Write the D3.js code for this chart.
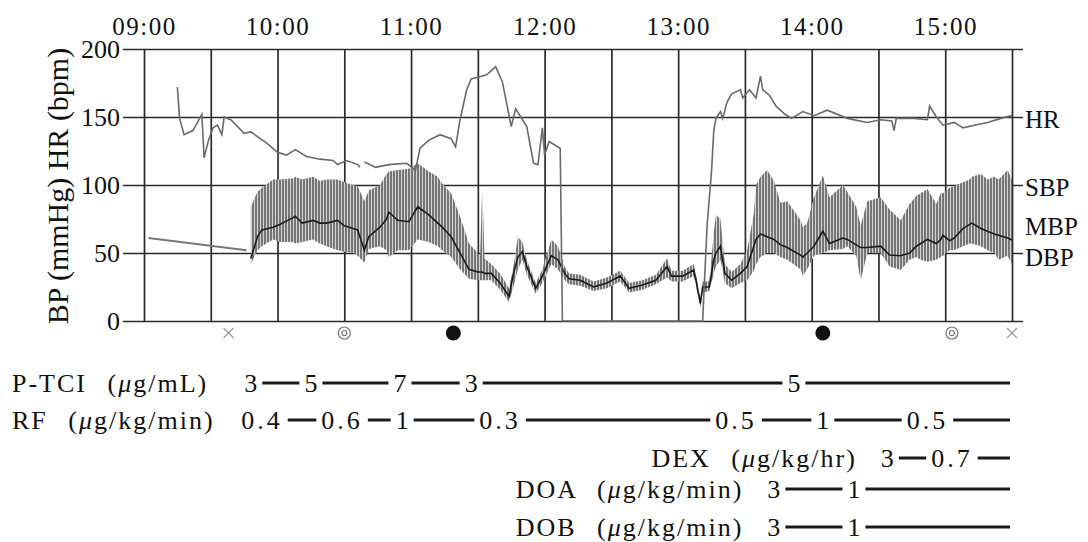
<!DOCTYPE html>
<html><head><meta charset="utf-8">
<script src="https://cdn.jsdelivr.net/npm/d3@7"></script>
<style>
html,body{margin:0;padding:0;background:#fff;}
svg{display:block;font-family:"Liberation Serif","DejaVu Serif",serif;}
</style></head><body>
<svg id="chart" width="1088" height="542"></svg>
<script>
// ---------- DATA ----------
const yTicks = [0, 50, 100, 150, 200];
const gridTimes = ["09:00","09:30","10:00","10:30","11:00","11:30","12:00","12:30","13:00","13:30","14:00","14:30","15:00","15:30"];
const hourLabels = ["09:00","10:00","11:00","12:00","13:00","14:00","15:00"];

// Heart rate (bpm); null = gap in trace
const hrTime = ["09:15","09:16","09:18","09:22","09:26","09:27","09:29","09:31","09:33","09:35","09:36","09:39","09:45","09:48","09:55","10:00","10:04","10:08","10:13","10:19","10:25","10:27","10:31","10:36","10:37","10:38","10:39","10:44","10:50","10:58","11:02","11:04","11:08","11:13","11:18","11:20","11:22","11:25","11:27","11:34","11:38","11:41","11:45","11:47","11:52","11:55","11:57","11:59","12:00","12:02","12:07","12:08","13:11","13:13","13:15","13:16","13:17","13:19","13:20","13:22","13:24","13:28","13:29","13:32","13:35","13:37","13:38","13:41","13:44","13:48","13:51","13:56","14:01","14:07","14:16","14:25","14:31","14:36","14:37","14:38","14:46","14:52","14:53","14:56","14:59","15:04","15:08","15:13","15:19","15:25","15:30"];
const hrValue = [172,149,137,140,152,120,133,142,144,137,150,148,138,139,131,124,122,126,121,119,118,115,118,115,113,null,117,113,115,116,111,127,133,137,134,128,148,170,178,181,187,176,143,156,143,116,115,142,122,132,127,0,0,70,110,140,149,154,149,161,167,170,164,170,164,180,170,166,158,152,149,154,151,155,149,146,148,147,140,149,149,148,158,150,144,146,142,144,146,149,151];

// Early blood-pressure trace before arterial line
const bpEarlyTime = ["09:02","09:46"];
const bpEarlyValue = [61, 52];

// Blood pressure (mmHg)
const bpTime = ["09:48","09:51","09:53","09:58","10:01","10:07","10:08","10:11","10:16","10:19","10:22","10:27","10:30","10:34","10:36","10:39","10:41","10:46","10:49","10:50","10:54","10:59","11:03","11:08","11:12","11:14","11:18","11:22","11:26","11:30","11:31","11:32","11:33","11:36","11:40","11:44","11:46","11:48","11:50","11:52","11:56","11:59","12:03","12:06","12:09","12:11","12:16","12:22","12:28","12:34","12:38","12:44","12:50","12:55","12:57","13:02","13:07","13:08","13:10","13:11","13:14","13:16","13:17","13:19","13:21","13:24","13:28","13:31","13:34","13:35","13:37","13:40","13:43","13:46","13:49","13:55","13:56","13:58","14:01","14:05","14:08","14:14","14:16","14:20","14:22","14:25","14:31","14:35","14:40","14:44","14:47","14:49","14:52","14:56","14:58","14:59","15:02","15:04","15:08","15:11","15:12","15:16","15:19","15:22","15:24","15:28","15:30"];
const sbpValue = [84,95,98,104,104,105,106,104,106,103,104,104,102,100,99,88,96,100,108,110,111,112,116,110,106,101,94,77,57,50,48,99,46,42,35,24,40,62,58,45,28,38,60,55,40,35,34,29,32,37,28,30,34,46,37,37,42,34,16,29,29,65,78,75,42,36,42,52,79,100,106,111,103,87,88,74,69,72,91,107,91,100,95,84,70,88,91,82,74,86,92,94,97,86,94,94,98,99,102,104,106,108,104,106,104,111,104];
const mbpValue = [46,62,67,69,71,76,77,72,74,72,72,74,70,68,67,52,62,69,75,80,74,73,84,78,72,69,62,50,38,36,36,36,35,35,28,18,35,47,51,40,24,33,48,45,35,31,30,25,28,33,24,26.5,30,40,33,33,37.5,30,13,25,25,45,50,55,35,30,35,40,55,60,64,62,60,56,54,48.5,47,50,55,66,57,61,60,56,54,54,55,48.5,48,50,55,57,60,57,60,63,59,61,68,71,72,68,66,64,63,61,59.5];
const dbpValue = [42,52,55,60,58,58,57,58,60,57,55,52,51,50,48,43,53,55,52,47,52,52,60,58,55,52,47,38,31,30,30,30,30,30,23,14,25,38,45,34,20,28,42,38,30,27,26,22,24,29,21,23,27,32,29,29,33,26,10,21,22,35,40,45,28,24,28,30,37,42,47,50,50,47,45,38,33,38,48,50,52,53,55,48,30,50,50,40,37.5,45,47,45,43.5,45,47,48,52,52,55,57,57,55,52,50,45,48,42];

const seriesLabels = ["HR","SBP","MBP","DBP"];
const seriesLabelLevels = [150, 100, 71, 48];

// Event markers below the time axis
const markerTime = ["09:38","10:30","11:19","14:05","15:03","15:30"];
const markerType = ["cross","bullseye","dot","dot","bullseye","cross"];

// Infusion rows
const drugNames = ["P-TCI","RF","DEX","DOA","DOB"];
const drugUnits = ["(μg/mL)","(μg/kg/min)","(μg/kg/hr)","(μg/kg/min)","(μg/kg/min)"];
const ptciTime = ["09:48","10:15","10:55","11:27","13:52"];
const ptciDose = ["3","5","7","3","5"];
const rfTime = ["09:53","10:29","10:56","11:40","13:26","14:05","14:52"];
const rfDose = ["0.4","0.6","1","0.3","0.5","1","0.5"];
const dexTime = ["14:34","15:03"];
const dexDose = ["3","0.7"];
const doaTime = ["13:43","14:19"];
const doaDose = ["3","1"];
const dobTime = ["13:43","14:19"];
const dobDose = ["3","1"];
const infusionEnd = "15:30";

// ---------- DRAW ----------
const parse = d3.timeParse("%H:%M");
const svg = d3.select("#chart");
const FONT = "'Liberation Serif','DejaVu Serif',serif";

const x = d3.scaleTime().domain([parse("09:00"), parse("15:30")]).range([144, 1012]);
const y = d3.scaleLinear().domain([0, 200]).range([321, 49]);

// hatch pattern for BP bars
const defs = svg.append("defs");
const pat = defs.append("pattern").attr("id","hatch").attr("patternUnits","userSpaceOnUse")
  .attr("width",3).attr("height",10);
pat.append("rect").attr("width",3).attr("height",10).attr("fill","#d4d4d4");
pat.append("line").attr("x1",1).attr("x2",1).attr("y1",0).attr("y2",10)
  .attr("stroke","#5e5e5e").attr("stroke-width",1.6);

// horizontal grid + y labels
svg.append("g").attr("transform","translate(123,0)")
  .call(d3.axisLeft(y).tickValues(yTicks).tickSize(-900).tickPadding(3).tickFormat(d3.format("d")))
  .attr("font-family", FONT).attr("font-size", 26)
  .call(g => g.select(".domain").remove())
  .call(g => g.selectAll("line").attr("stroke","#2a2a2a").attr("stroke-width",1.7))
  .call(g => g.selectAll("text").attr("fill","#111"));

// vertical grid + time labels
svg.append("g").attr("transform","translate(0,49)")
  .call(d3.axisTop(x).tickValues(gridTimes.map(parse)).tickSize(-(321-49)).tickPadding(14)
    .tickFormat(d => { const s = d3.timeFormat("%H:%M")(d); return hourLabels.includes(s) ? s : ""; }))
  .attr("font-family", FONT).attr("font-size", 25)
  .call(g => g.select(".domain").remove())
  .call(g => g.selectAll("line").attr("stroke","#2a2a2a").attr("stroke-width",1.7))
  .call(g => g.selectAll("text").attr("fill","#111").attr("letter-spacing","1.5px"));

// BP envelope
const bp = bpTime.map((t,i) => ({t: parse(t), s: sbpValue[i], m: mbpValue[i], d: dbpValue[i]}));
svg.append("path").datum(bp)
  .attr("d", d3.area().x(d => x(d.t)).y0(d => y(d.d)).y1(d => y(d.s)))
  .attr("fill","url(#hatch)");

// early BP line
svg.append("path").datum(bpEarlyTime.map((t,i) => ({t: parse(t), v: bpEarlyValue[i]})))
  .attr("d", d3.line().x(d => x(d.t)).y(d => y(d.v)))
  .attr("fill","none").attr("stroke","#777").attr("stroke-width",2);

// MBP
svg.append("path").datum(bp)
  .attr("d", d3.line().x(d => x(d.t)).y(d => y(d.m)))
  .attr("fill","none").attr("stroke","#1a1a1a").attr("stroke-width",1.6);

// HR
const hr = hrTime.map((t,i) => ({t: parse(t), v: hrValue[i]}));
svg.append("path").datum(hr)
  .attr("d", d3.line().defined(d => d.v !== null).x(d => x(d.t)).y(d => y(d.v)))
  .attr("fill","none").attr("stroke","#6a6a6a").attr("stroke-width",1.6);

// y-axis title
svg.append("text").attr("transform","translate(57,186) rotate(-90)")
  .attr("text-anchor","middle").attr("dominant-baseline","central")
  .attr("font-family",FONT).attr("font-size",30).attr("fill","#111")
  .text("BP (mmHg) HR (bpm)");

// series labels on right
svg.append("g").selectAll("text").data(seriesLabels).join("text")
  .attr("x",1025).attr("y",(d,i) => y(seriesLabelLevels[i]) + 2)
  .attr("dominant-baseline","central")
  .attr("font-family",FONT).attr("font-size",25).attr("fill","#111")
  .text(d => d);

// markers
const mg = svg.append("g");
markerTime.forEach((t,i) => {
  const cx = x(parse(t)), cy = 333;
  if (markerType[i] === "dot") {
    mg.append("circle").attr("cx",cx).attr("cy",cy).attr("r",7.5).attr("fill","#111");
  } else if (markerType[i] === "bullseye") {
    mg.append("circle").attr("cx",cx).attr("cy",cy).attr("r",6).attr("fill","none").attr("stroke","#777").attr("stroke-width",1.2);
    mg.append("circle").attr("cx",cx).attr("cy",cy).attr("r",2.5).attr("fill","none").attr("stroke","#777").attr("stroke-width",1.2);
  } else {
    mg.append("path").attr("d",`M${cx-5},${cy-5}L${cx+5},${cy+5}M${cx-5},${cy+5}L${cx+5},${cy-5}`)
      .attr("stroke","#999").attr("stroke-width",1.2);
  }
});

// infusion rows
const rows = [
  {times: ptciTime, doses: ptciDose, y: 383, left: true},
  {times: rfTime, doses: rfDose, y: 420, left: true},
  {times: dexTime, doses: dexDose, y: 458, left: false},
  {times: doaTime, doses: doaDose, y: 489, left: false},
  {times: dobTime, doses: dobDose, y: 527, left: false}
];
const ig = svg.append("g").attr("font-family",FONT).attr("fill","#111");
rows.forEach((r,ri) => {
  const doseEls = r.doses.map((d,i) => ig.append("text")
    .attr("x", x(parse(r.times[i]))).attr("y", r.y).attr("dominant-baseline","central")
    .attr("text-anchor","middle").attr("font-size",26).attr("letter-spacing", d.length > 1 ? "3px" : "0px")
    .text(d));
  const boxes = doseEls.map(e => e.node().getBBox());
  // label
  const lab = ig.append("text").attr("y", r.y).attr("dominant-baseline","central")
    .attr("font-size",26).attr("letter-spacing","2px").attr("word-spacing","12px")
    .attr("xml:space","preserve");
  lab.append("tspan").text(drugNames[ri] + " ");
  const parts = drugUnits[ri].split("μ");
  lab.append("tspan").text(parts[0]);
  lab.append("tspan").attr("font-style","italic").text("μ");
  lab.append("tspan").text(parts[1]);
  if (r.left) lab.attr("x", 12);
  else lab.attr("x", boxes[0].x - 24).attr("text-anchor","end");
  // dash segments
  const endX = x(parse(infusionEnd)) - 2;
  boxes.forEach((b,i) => {
    const x1 = b.x + b.width + 5;
    const x2 = i < boxes.length - 1 ? boxes[i+1].x - 5 : endX;
    ig.append("line").attr("x1",x1).attr("x2",x2).attr("y1",r.y).attr("y2",r.y)
      .attr("stroke","#1a1a1a").attr("stroke-width",3);
  });
});
</script>
</body></html>
